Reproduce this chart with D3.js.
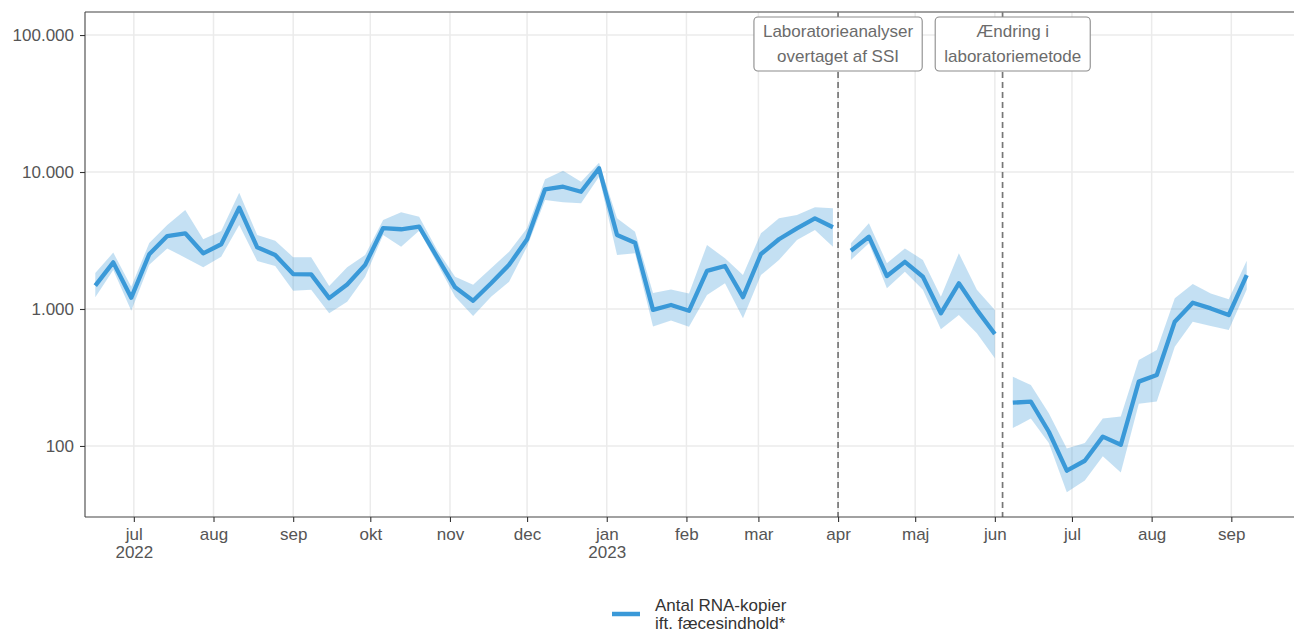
<!DOCTYPE html>
<html><head><meta charset="utf-8">
<script src="https://cdn.jsdelivr.net/npm/d3@7"></script>
<style>
body{margin:0;background:#fff}
svg{display:block;font-family:"Liberation Sans",Arial,sans-serif}
</style>
</head><body>
<svg id="chart" width="1294" height="634"></svg>
<script>
// ---------- data ----------
const dates = ["2022-06-16","2022-06-23","2022-06-30","2022-07-07","2022-07-14","2022-07-21","2022-07-28",
"2022-08-04","2022-08-11","2022-08-18","2022-08-25","2022-09-01","2022-09-08","2022-09-15","2022-09-22","2022-09-29",
"2022-10-06","2022-10-13","2022-10-20","2022-10-27","2022-11-03","2022-11-10","2022-11-17","2022-11-24",
"2022-12-01","2022-12-08","2022-12-15","2022-12-22","2022-12-29","2023-01-05","2023-01-12","2023-01-19","2023-01-26",
"2023-02-02","2023-02-09","2023-02-16","2023-02-23","2023-03-02","2023-03-09","2023-03-16","2023-03-23","2023-03-30",
"2023-04-06","2023-04-13","2023-04-20","2023-04-27","2023-05-04","2023-05-11","2023-05-18","2023-05-25","2023-06-01",
"2023-06-08","2023-06-15","2023-06-22","2023-06-29","2023-07-06","2023-07-13","2023-07-20","2023-07-27",
"2023-08-03","2023-08-10","2023-08-17","2023-08-24","2023-08-31","2023-09-07"];
const median = [1480,2190,1210,2510,3410,3570,2550,2970,5490,2820,2480,1800,1790,1200,1510,2100,3900,3820,3990,2390,
1440,1150,1540,2100,3230,7480,7810,7180,10640,3470,3050,985,1070,970,1900,2060,1220,2520,3230,3880,4590,3950,
2660,3370,1740,2210,1720,930,1540,985,657,
207,211,127,66,78,117,102,295,330,808,1110,1010,904,1770];
const lower = [1220,1930,970,2100,2770,2370,2020,2410,4100,2240,2060,1360,1380,930,1130,1720,3470,2850,3730,2160,
1230,889,1230,1580,2850,6250,6010,5910,9240,2480,2550,745,824,742,1265,1540,855,1770,2280,3190,3770,2850,
2280,3020,1420,1870,1380,711,904,665,437,
135,159,105,46,56,84,64,203,211,531,808,751,703,1390];
const upper = [1830,2580,1455,3030,4100,5280,3230,3710,7060,3470,3150,2390,2390,1470,2020,2480,4460,5080,4720,2700,
1720,1500,1980,2620,3880,8840,10220,8490,11690,4590,3670,1310,1390,1300,2930,2345,1770,3570,4590,4860,5530,5430,
3020,4220,2160,2770,2280,1230,2550,1380,985,
320,279,173,96,105,159,164,424,502,1200,1520,1300,1180,2250];

const monthTicks = ["2022-07-01","2022-08-01","2022-09-01","2022-10-01","2022-11-01","2022-12-01","2023-01-01",
"2023-02-01","2023-03-01","2023-04-01","2023-05-01","2023-06-01","2023-07-01","2023-08-01","2023-09-01"];
const monthLabels = [["jul","2022"],["aug"],["sep"],["okt"],["nov"],["dec"],["jan","2023"],
["feb"],["mar"],["apr"],["maj"],["jun"],["jul"],["aug"],["sep"]];
const yTicks = [100,1000,10000,100000];
const yTickLabels = ["100","1.000","10.000","100.000"];
const eventDates = ["2023-04-01","2023-06-04"];
const eventLabels = [["Laboratorieanalyser","overtaget af SSI"],["Ændring i","laboratoriemetode"]];
const legendLabel = ["Antal RNA-kopier","ift. fæcesindhold*"];
const xDomain = ["2022-06-12","2023-09-25"];
const yDomain = [30.3,147300];

// ---------- layout ----------
const L = 85, R = 1294, T = 12, B = 517;
const fontSize = 17;
const blue = "#3a99d8";
const parse = d3.utcParse("%Y-%m-%d");

const svg = d3.select("#chart");
const x = d3.scaleUtc().domain(xDomain.map(parse)).range([L, 1293]);
const y = d3.scaleLog().domain(yDomain).range([B, T]);

const rows = dates.map((d,i)=>({date:parse(d), m:median[i], lo:lower[i], hi:upper[i]}));
const breaks = eventDates.map(parse);
rows.forEach(r=>{ r.seg = breaks.filter(b=>r.date>=b).length; });
const segs = d3.groups(rows, r=>r.seg).map(g=>g[1]);

// grid
const grid = svg.append("g");
grid.selectAll(".gx").data(monthTicks.map(parse)).join("line")
  .attr("x1",d=>x(d)).attr("x2",d=>x(d)).attr("y1",T).attr("y2",B)
  .attr("stroke","#ebebeb").attr("stroke-width",1.5);
grid.selectAll(".gy").data(yTicks).join("line")
  .attr("x1",L).attr("x2",R).attr("y1",d=>y(d)).attr("y2",d=>y(d))
  .attr("stroke","#ebebeb").attr("stroke-width",1.5);

// ribbons
const area = d3.area().x(d=>x(d.date)).y0(d=>y(d.lo)).y1(d=>y(d.hi));
svg.append("g").selectAll("path").data(segs).join("path")
  .attr("d",area).attr("fill",blue).attr("fill-opacity",0.3);

// lines
const line = d3.line().x(d=>x(d.date)).y(d=>y(d.m));
svg.append("g").selectAll("path").data(segs).join("path")
  .attr("d",line).attr("fill","none").attr("stroke",blue)
  .attr("stroke-width",4.3).attr("stroke-linejoin","round").attr("stroke-linecap","butt");

// event lines
svg.append("g").selectAll("line").data(breaks).join("line")
  .attr("x1",d=>x(d)).attr("x2",d=>x(d)).attr("y1",T).attr("y2",B)
  .attr("stroke","#777").attr("stroke-width",1.7).attr("stroke-dasharray","6,4");

// event labels (repelled horizontally)
const lblG = svg.append("g");
let prevRight = -Infinity;
eventLabels.forEach((lines,i)=>{
  const g = lblG.append("g");
  const rect = g.append("rect");
  const texts = lines.map((t,j)=>g.append("text").text(t)
    .attr("font-size",fontSize).attr("fill","#6b6b6b").attr("text-anchor","middle")
    .attr("y",37 + j*25));
  const w = d3.max(texts, t=>t.node().getComputedTextLength()) + 18;
  let cx = x(breaks[i]);
  if (cx - w/2 < prevRight + 13) cx = prevRight + 13 + w/2;
  prevRight = cx + w/2;
  texts.forEach(t=>t.attr("x",cx));
  rect.attr("x",cx-w/2).attr("y",17).attr("width",w).attr("height",54)
    .attr("rx",4).attr("fill","#fff").attr("stroke","#8c8c8c").attr("stroke-width",1.1);
});

// panel top border
svg.append("line").attr("x1",L).attr("x2",R).attr("y1",T).attr("y2",T)
  .attr("stroke","#808080").attr("stroke-width",1.4);

// y axis
const yAxis = svg.append("g").attr("transform",`translate(${L},0)`)
  .call(d3.axisLeft(y).tickValues(yTicks).tickFormat((d,i)=>yTickLabels[i]).tickSize(5).tickPadding(6));
yAxis.select(".domain").attr("d",`M0,${T}V${B}`).attr("stroke","#444").attr("stroke-width",1.1);
yAxis.selectAll(".tick line").attr("stroke","#333").attr("stroke-width",1.1);
yAxis.selectAll(".tick text").attr("font-size",fontSize).attr("fill","#555")
  .attr("font-family","'Liberation Sans',Arial,sans-serif");

// x axis
const xAxis = svg.append("g").attr("transform",`translate(0,${B})`)
  .call(d3.axisBottom(x).tickValues(monthTicks.map(parse)).tickFormat("").tickSize(5));
xAxis.select(".domain").attr("d",`M${L},0H${R}`).attr("stroke","#444").attr("stroke-width",1.1);
xAxis.selectAll(".tick line").attr("stroke","#333").attr("stroke-width",1.1);
xAxis.selectAll(".tick").each(function(d,i){
  const t = d3.select(this).append("text").attr("fill","#555").attr("font-size",fontSize)
    .attr("text-anchor","middle").attr("font-family","'Liberation Sans',Arial,sans-serif");
  monthLabels[i].forEach((s,j)=>t.append("tspan").attr("x",0).attr("y",23 + j*18).text(s));
});

// legend
const lg = svg.append("g");
lg.append("line").attr("x1",612).attr("x2",640).attr("y1",614).attr("y2",614)
  .attr("stroke",blue).attr("stroke-width",4.5);
legendLabel.forEach((s,j)=>lg.append("text").text(s).attr("x",655).attr("y",611+j*17.5)
  .attr("font-size",fontSize).attr("fill","#333"));
</script>
</body></html>
